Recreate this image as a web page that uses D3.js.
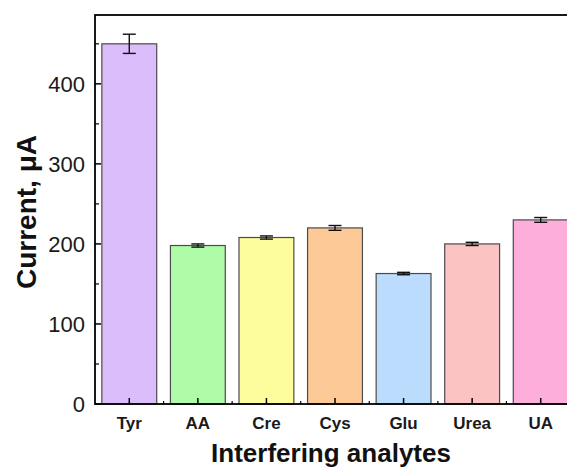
<!DOCTYPE html>
<html>
<head>
<meta charset="utf-8">
<script src="https://cdn.jsdelivr.net/npm/d3@7"></script>
<style>
  body { margin: 0; background: #fff; }
  text { font-family: Arial, "Liberation Sans", sans-serif; }
</style>
</head>
<body>
<div id="chart"></div>
<script>
const width = 567;
const height = 468;

const categories = ["Tyr", "AA", "Cre", "Cys", "Glu", "Urea", "UA"];
const currents = [450, 198, 208, 220, 163, 200, 230];
const errors = [12, 2, 2, 3, 1.5, 2, 3];
const colors = ["#dbbdfb", "#aefca8", "#fdfd9e", "#fdca97", "#bbdcfc", "#fcc3c3", "#fdaedb"];
const yTicks = [0, 100, 200, 300, 400];

const margin = { top: 15, left: 95, bottom: 64, right: -8 };
const plotW = width - margin.left - margin.right;
const plotH = height - margin.top - margin.bottom;

const data = categories.map((c, i) => ({ name: c, value: currents[i], err: errors[i], color: colors[i] }));

//scales
const xScale = d3.scaleBand().domain(categories).range([0, plotW]).paddingInner(0.2).paddingOuter(0.1);
const yScale = d3.scaleLinear().domain([0, 486]).range([plotH, 0]);

const svg = d3.select("#chart").append("svg").attr("width", width).attr("height", height);
const g = svg.append("g").attr("transform", `translate(${margin.left},${margin.top})`);

//bars
g.selectAll("rect.bar")
    .data(data)
    .join("rect")
    .attr("class", "bar")
    .attr("x", d => xScale(d.name))
    .attr("y", d => yScale(d.value))
    .attr("width", xScale.bandwidth())
    .attr("height", d => yScale(0) - yScale(d.value))
    .attr("fill", d => d.color)
    .attr("stroke", "#4a4a4a")
    .attr("stroke-width", 1.2);

//error bars
const cx = d => xScale(d.name) + xScale.bandwidth() / 2;
const errG = g.selectAll("g.err").data(data).join("g").attr("class", "err")
    .attr("stroke", "#111").attr("stroke-width", 1.4);
errG.append("line")
    .attr("x1", cx).attr("x2", cx)
    .attr("y1", d => yScale(d.value + d.err)).attr("y2", d => yScale(d.value - d.err));
errG.selectAll("line.cap")
    .data(d => [d.value + d.err, d.value - d.err].map(v => ({ d, v })))
    .join("line")
    .attr("class", "cap")
    .attr("x1", e => cx(e.d) - 6.5).attr("x2", e => cx(e.d) + 6.5)
    .attr("y1", e => yScale(e.v)).attr("y2", e => yScale(e.v));

//frame
g.append("rect")
    .attr("width", plotW).attr("height", plotH)
    .attr("fill", "none").attr("stroke", "#000").attr("stroke-width", 1.8);

//y axis ticks (inward)
const yMinor = d3.range(50, 486, 100);
g.selectAll("line.ymaj").data(yTicks).join("line").attr("class", "ymaj")
    .attr("x1", 0).attr("x2", 6).attr("y1", yScale).attr("y2", yScale)
    .attr("stroke", "#000").attr("stroke-width", 1.5);
g.selectAll("line.ymin").data(yMinor).join("line").attr("class", "ymin")
    .attr("x1", 0).attr("x2", 4).attr("y1", yScale).attr("y2", yScale)
    .attr("stroke", "#000").attr("stroke-width", 1.2);
g.selectAll("text.ylab").data(yTicks).join("text").attr("class", "ylab")
    .attr("x", -10).attr("y", yScale).attr("dy", "0.35em")
    .attr("text-anchor", "end").style("font-size", "22px").style("fill", "#1a1a1a")
    .text(d => d);

//x axis ticks (inward)
g.selectAll("line.xmaj").data(categories).join("line").attr("class", "xmaj")
    .attr("x1", d => xScale(d) + xScale.bandwidth() / 2).attr("x2", d => xScale(d) + xScale.bandwidth() / 2)
    .attr("y1", plotH).attr("y2", plotH - 6)
    .attr("stroke", "#000").attr("stroke-width", 1.5);
g.selectAll("line.xmin").data(categories.slice(1)).join("line").attr("class", "xmin")
    .attr("x1", d => xScale(d) - xScale.step() * xScale.paddingInner() / 2)
    .attr("x2", d => xScale(d) - xScale.step() * xScale.paddingInner() / 2)
    .attr("y1", plotH).attr("y2", plotH - 3)
    .attr("stroke", "#000").attr("stroke-width", 1.2);
g.selectAll("text.xlab").data(categories).join("text").attr("class", "xlab")
    .attr("x", d => xScale(d) + xScale.bandwidth() / 2).attr("y", plotH + 25)
    .attr("text-anchor", "middle").style("font-size", "17px").style("font-weight", "bold")
    .style("fill", "#1a1a1a")
    .text(d => d);

//axis titles
svg.append("text")
    .attr("transform", `translate(36,212) rotate(-90)`)
    .attr("text-anchor", "middle").style("font-size", "28px").style("font-weight", "bold")
    .style("fill", "#111")
    .text("Current, μA");
svg.append("text")
    .attr("x", 331).attr("y", 462)
    .attr("text-anchor", "middle").style("font-size", "26px").style("font-weight", "bold")
    .style("fill", "#111")
    .text("Interfering analytes");
</script>
</body>
</html>
